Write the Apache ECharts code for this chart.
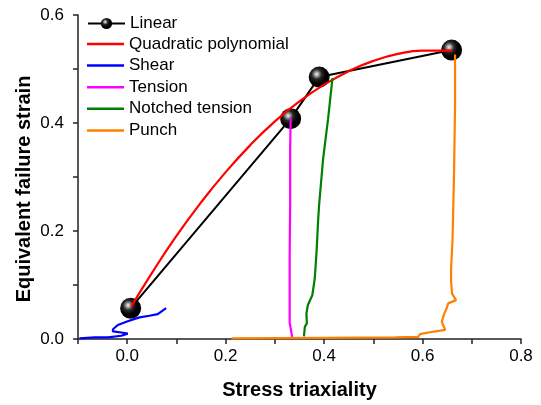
<!DOCTYPE html>
<html>
<head>
<meta charset="utf-8">
<script src="https://cdn.jsdelivr.net/npm/echarts/dist/echarts.min.js"></script>
<style>
  html, body { margin: 0; padding: 0; background: #fff; }
  #chart { width: 541px; height: 405px; }
</style>
</head>
<body>
<div id="chart"></div>
<script>
// data: [stress triaxiality, failure strain]
const linearPts = [[0.007, 0.057], [0.332, 0.408], [0.39, 0.485], [0.659, 0.535]]

const quadPts = [
  [0.008, 0.060], [0.05, 0.122], [0.1, 0.191], [0.15, 0.253], [0.2, 0.309],
  [0.25, 0.359], [0.3, 0.403], [0.35, 0.440], [0.4, 0.471], [0.45, 0.496],
  [0.5, 0.515], [0.55, 0.528], [0.6, 0.534], [0.66, 0.534]
]

const shearPts = [
  [-0.097, 0.001], [-0.066, 0.003], [-0.039, 0.003], [-0.012, 0.006], [0.001, 0.010],
  [-0.012, 0.012], [-0.029, 0.014], [-0.029, 0.018], [-0.019, 0.026], [0.001, 0.033],
  [0.025, 0.040], [0.045, 0.043], [0.062, 0.046], [0.079, 0.057]
]

const tensionPts = [
  [0.335, 0.004], [0.333, 0.015], [0.330, 0.030], [0.330, 0.080], [0.330, 0.150],
  [0.331, 0.250], [0.331, 0.350], [0.332, 0.408]
]

const notchedPts = [
  [0.359, 0.005], [0.361, 0.023], [0.365, 0.029], [0.364, 0.047], [0.367, 0.063],
  [0.376, 0.081], [0.381, 0.112], [0.385, 0.167], [0.388, 0.223], [0.390, 0.250],
  [0.398, 0.334], [0.408, 0.407], [0.417, 0.483]
]

const punchPts = [
  [0.212, 0.001], [0.40, 0.002], [0.544, 0.003], [0.591, 0.004], [0.595, 0.009],
  [0.612, 0.012], [0.646, 0.017], [0.639, 0.032], [0.644, 0.047], [0.649, 0.057],
  [0.652, 0.066], [0.668, 0.072], [0.660, 0.084], [0.658, 0.106], [0.658, 0.130],
  [0.661, 0.186], [0.664, 0.309], [0.666, 0.432], [0.666, 0.527]
]

const curveNames = ['Quadratic polynomial', 'Shear', 'Tension', 'Notched tension', 'Punch']

const chart = echarts.init(document.getElementById('chart'))

const sphere = new echarts.graphic.RadialGradient(0.38, 0.36, 0.62, [
  { offset: 0, color: '#f4f4f4' },
  { offset: 0.15, color: '#a8a8a8' },
  { offset: 0.38, color: '#2a2a2a' },
  { offset: 0.7, color: '#000' },
  { offset: 1, color: '#000' }
])

const font = 'Liberation Sans, Arial'
const tickLabel = v => (Math.round(v * 10) % 2 === 0 ? v.toFixed(1) : '')

const axisCommon = {
  type: 'value',
  interval: 0.1,
  axisLine: { show: true, onZero: false, lineStyle: { color: '#222', width: 1.5 } },
  axisTick: { show: true, inside: false, length: 5, lineStyle: { color: '#222', width: 1.5 } },
  splitLine: { show: false },
  axisLabel: { color: '#000', fontSize: 17, fontFamily: font, formatter: tickLabel },
  nameLocation: 'middle',
  nameMoveOverlap: false,
  nameTextStyle: { color: '#000', fontSize: 20, fontWeight: 'bold', fontFamily: font }
}

const legendText = { color: '#000', fontSize: 17, fontFamily: font }

const curve = (name, data, color) => ({
  name,
  type: 'line',
  data,
  showSymbol: false,
  symbol: 'none',
  lineStyle: { color, width: 2.2 },
  itemStyle: { color }
})

chart.setOption({
  animation: false,
  grid: { left: 78, right: 20, top: 15, bottom: 64 },
  legend: [
    {
      orient: 'vertical',
      left: 82,
      top: 10,
      itemWidth: 37,
      itemHeight: 14,
      textStyle: legendText,
      data: ['Linear']
    },
    {
      orient: 'vertical',
      left: 82,
      top: 9 + 21.5,
      itemWidth: 37,
      itemHeight: 2.5,
      itemGap: 4.6,
      icon: 'rect',
      textStyle: legendText,
      data: curveNames
    }
  ],
  xAxis: {
    ...axisCommon,
    min: -0.1,
    max: 0.8,
    name: 'Stress triaxiality',
    nameGap: 41,
    axisLabel: { ...axisCommon.axisLabel, margin: 9 }
  },
  yAxis: {
    ...axisCommon,
    min: 0,
    max: 0.6,
    name: 'Equivalent failure strain',
    nameGap: 44,
    nameTextStyle: { ...axisCommon.nameTextStyle, padding: [0, 24, 0, 0] },
    axisLabel: { ...axisCommon.axisLabel, margin: 14 }
  },
  series: [
    {
      name: 'Linear',
      type: 'line',
      data: linearPts,
      symbol: 'circle',
      symbolSize: 21,
      z: 1,
      lineStyle: { color: '#000', width: 2 },
      itemStyle: { color: sphere, borderWidth: 0 }
    },
    { ...curve(curveNames[0], quadPts, '#ff0000'), smooth: true },
    curve(curveNames[1], shearPts, '#0000ff'),
    curve(curveNames[2], tensionPts, '#ff00ff'),
    curve(curveNames[3], notchedPts, '#008000'),
    curve(curveNames[4], punchPts, '#ff8000')
  ]
})
</script>
</body>
</html>
